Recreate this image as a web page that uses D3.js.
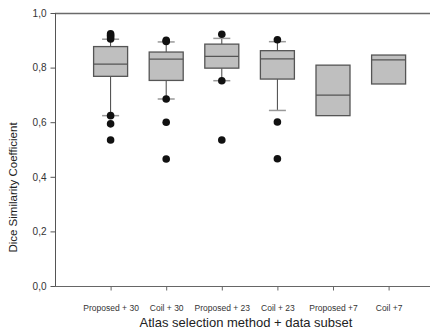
<!DOCTYPE html>
<html>
<head>
<meta charset="utf-8">
<script src="https://cdn.jsdelivr.net/npm/d3@7/dist/d3.min.js"></script>
<style>
  html, body { margin: 0; padding: 0; background: #fff; }
  svg { display: block; font-family: "Liberation Sans", Arial, sans-serif; }
</style>
</head>
<body>
<svg id="chart" width="430" height="332"></svg>
<script>
// Groups (atlas selection method + data subset)
const categories = ["Proposed + 30", "Coil + 30", "Proposed + 23", "Coil + 23", "Proposed +7", "Coil +7"];
// Box statistics per group
const q1      = [0.768, 0.753, 0.798, 0.758, 0.624, 0.740];
const medians = [0.813, 0.831, 0.841, 0.832, 0.699, 0.828];
const q3      = [0.877, 0.857, 0.886, 0.862, 0.809, 0.846];
// Whisker ends (null = none drawn)
const whiskerLow  = [0.624, 0.685, 0.752, 0.643, null, null];
const whiskerHigh = [0.904, 0.894, 0.907, 0.895, null, null];
// Points beyond the whiskers
const outliers = [
  [0.924, 0.918, 0.912, 0.905, 0.624, 0.594, 0.535],
  [0.900, 0.896, 0.685, 0.600, 0.465],
  [0.922, 0.752, 0.535],
  [0.902, 0.601, 0.466],
  [],
  []
];
const yTicks = [0, 0.2, 0.4, 0.6, 0.8, 1.0];

const svg = d3.select("#chart");
const plotLeft = 55, plotTop = 13, plotBottom = 286;

const x = d3.scaleLinear().domain([0, categories.length + 1]).range([plotLeft, plotLeft + 55.6 * 7]);
const y = d3.scaleLinear().domain([0, 1]).range([plotBottom, plotTop]);
const fmt = d => d3.format(".1f")(d).replace(".", ",");

// frame: top line
svg.append("line")
  .attr("x1", plotLeft).attr("x2", 430).attr("y1", y(1) + 0.5).attr("y2", y(1) + 0.5)
  .attr("stroke", "#6a6a6a").attr("stroke-width", 1.5);

// y axis
const yAxis = svg.append("g")
  .attr("transform", `translate(${plotLeft + 0.5},0)`)
  .call(d3.axisLeft(y).tickValues(yTicks).tickFormat(fmt).tickSize(5).tickPadding(4));
yAxis.select(".domain").attr("stroke", "#555").attr("d", `M0,${y(1)}V${y(0)}`);
yAxis.selectAll(".tick line").attr("stroke", "#555");
yAxis.selectAll(".tick text").attr("fill", "#333").style("font-size", "10px");

// x axis
const xAxis = svg.append("g")
  .attr("transform", `translate(0,${plotBottom + 0.5})`)
  .call(d3.axisBottom(x).tickValues(d3.range(1, categories.length + 1)).tickFormat(i => categories[i - 1]).tickSize(4).tickPadding(14));
xAxis.select(".domain").attr("stroke", "#666").attr("d", `M${plotLeft},0H430`);
xAxis.selectAll(".tick line").attr("stroke", "#666");
xAxis.selectAll(".tick text").attr("fill", "#333").style("font-size", "8.5px");

// axis titles
svg.append("text")
  .attr("x", 246).attr("y", 327).attr("text-anchor", "middle")
  .attr("fill", "#222").style("font-size", "13px")
  .text("Atlas selection method + data subset");
svg.append("text")
  .attr("transform", `translate(17,${(y(0) + y(1)) / 2 + 38}) rotate(-90)`)
  .attr("text-anchor", "middle").attr("fill", "#222").style("font-size", "11.5px")
  .text("Dice Similarity Coefficient");

const boxW = 34, capW = 17;
const groups = svg.append("g").selectAll("g")
  .data(categories.map((c, i) => ({ i, c })))
  .join("g")
  .attr("transform", d => `translate(${x(d.i + 1)},0)`);

// whiskers
groups.filter(d => whiskerLow[d.i] !== null).each(function (d) {
  const g = d3.select(this);
  g.append("line").attr("x1", 0).attr("x2", 0)
    .attr("y1", y(whiskerHigh[d.i])).attr("y2", y(q3[d.i]))
    .attr("stroke", "#444").attr("stroke-width", 1);
  g.append("line").attr("x1", 0).attr("x2", 0)
    .attr("y1", y(q1[d.i])).attr("y2", y(whiskerLow[d.i]))
    .attr("stroke", "#444").attr("stroke-width", 1);
  [whiskerHigh[d.i], whiskerLow[d.i]].forEach(v => {
    g.append("line").attr("x1", -capW / 2).attr("x2", capW / 2)
      .attr("y1", y(v)).attr("y2", y(v))
      .attr("stroke", "#999").attr("stroke-width", 1.5);
  });
});

// boxes
groups.append("rect")
  .attr("x", -boxW / 2).attr("width", boxW)
  .attr("y", d => y(q3[d.i])).attr("height", d => y(q1[d.i]) - y(q3[d.i]))
  .attr("fill", "#bfbfbf").attr("stroke", "#555").attr("stroke-width", 1.3);
groups.append("line")
  .attr("x1", -boxW / 2).attr("x2", boxW / 2)
  .attr("y1", d => y(medians[d.i])).attr("y2", d => y(medians[d.i]))
  .attr("stroke", "#555").attr("stroke-width", 1.3);

// outlier points
groups.selectAll("circle")
  .data(d => outliers[d.i])
  .join("circle")
  .attr("cx", 0).attr("cy", v => y(v)).attr("r", 3.8)
  .attr("fill", "#111");
</script>
</body>
</html>
